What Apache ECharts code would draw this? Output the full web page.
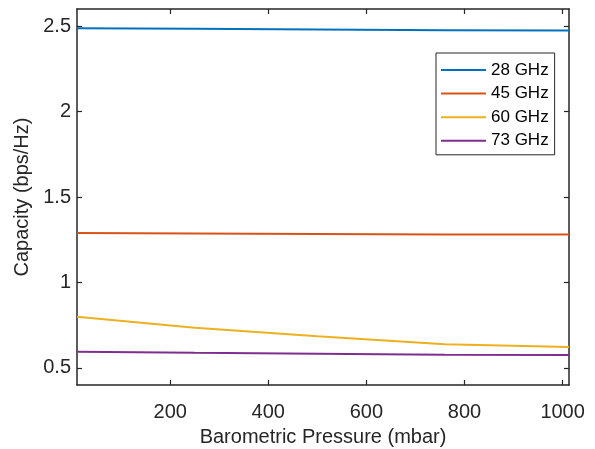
<!DOCTYPE html>
<html>
<head>
<meta charset="utf-8">
<script src="https://cdn.jsdelivr.net/npm/echarts@6/dist/echarts.min.js"></script>
<style>html,body{margin:0;padding:0;background:#fff}#c{width:595px;height:449px}</style>
</head>
<body>
<div id="c"></div>
<script>
const pressure = [10, 250, 500, 760, 1013];
const ghz28 = [2.487, 2.484, 2.480, 2.476, 2.474];
const ghz45 = [1.290, 1.286, 1.283, 1.281, 1.280];
const ghz60 = [0.800, 0.735, 0.685, 0.638, 0.623];
const ghz73 = [0.594, 0.588, 0.583, 0.577, 0.575];
const seriesNames = ['28 GHz', '45 GHz', '60 GHz', '73 GHz'];
const seriesData = [ghz28, ghz45, ghz60, ghz73];
const colors = ['#0072BD', '#D95319', '#EDB120', '#7E2F8E'];
const xTicks = [200, 400, 600, 800, 1000];
const yTicks = [0.5, 1, 1.5, 2, 2.5];

const font = 'Liberation Sans, Arial, Helvetica, sans-serif';
const axisColor = '#262626';
const fs = 20;

function xAxisDef(pos, showLabel) {
  return {
    type: 'value', position: pos, min: 10, max: 1013,
    axisLine: {show: true, onZero: false, lineStyle: {color: axisColor, width: 1.5}},
    axisTick: {show: true, inside: true, length: 5, customValues: xTicks, lineStyle: {color: axisColor, width: 1.2}},
    axisLabel: {show: showLabel, customValues: xTicks, color: axisColor, fontSize: fs, fontFamily: font, margin: 17,
      formatter: v => String(v)},
    splitLine: {show: false},
    name: showLabel ? 'Barometric Pressure (mbar)' : '',
    nameLocation: 'middle', nameGap: 42,
    nameTextStyle: {color: axisColor, fontSize: fs, fontFamily: font}
  };
}
function yAxisDef(pos, showLabel) {
  return {
    type: 'value', position: pos, min: 0.4, max: 2.6,
    axisLine: {show: true, onZero: false, lineStyle: {color: axisColor, width: 1.5}},
    axisTick: {show: true, inside: true, length: 5, customValues: yTicks, lineStyle: {color: axisColor, width: 1.2}},
    axisLabel: {show: showLabel, customValues: yTicks, color: axisColor, fontSize: fs, fontFamily: font, margin: 6,
      formatter: v => String(v)},
    splitLine: {show: false},
    name: showLabel ? 'Capacity (bps/Hz)' : '',
    nameLocation: 'middle', nameGap: 34, nameRotate: 90,
    nameTextStyle: {color: axisColor, fontSize: fs, fontFamily: font}
  };
}

const chart = echarts.init(document.getElementById('c'), null, {renderer: 'canvas'});
chart.setOption({
  animation: false,
  backgroundColor: '#fff',
  grid: {left: 77, right: 26, top: 9, bottom: 64, containLabel: false, outerBoundsMode: 'none'},
  xAxis: [xAxisDef('bottom', true), xAxisDef('top', false)],
  yAxis: [yAxisDef('left', true), yAxisDef('right', false)],
  legend: {
    orient: 'vertical', left: 436, top: 53,
    data: seriesNames,
    icon: 'rect',
    itemWidth: 45, itemHeight: 2, itemGap: 3.6,
    padding: [7, 6, 4, 5],
    borderColor: axisColor, borderWidth: 1, backgroundColor: '#fff',
    textStyle: {color: '#000', fontSize: 17, lineHeight: 20, fontFamily: font}
  },
  series: seriesData.map((d, i) => ({
    name: seriesNames[i], type: 'line', symbol: 'none', smooth: false,
    data: pressure.map((p, j) => [p, d[j]]),
    lineStyle: {color: colors[i], width: 2},
    itemStyle: {color: colors[i]}
  }))
});
</script>
</body>
</html>
